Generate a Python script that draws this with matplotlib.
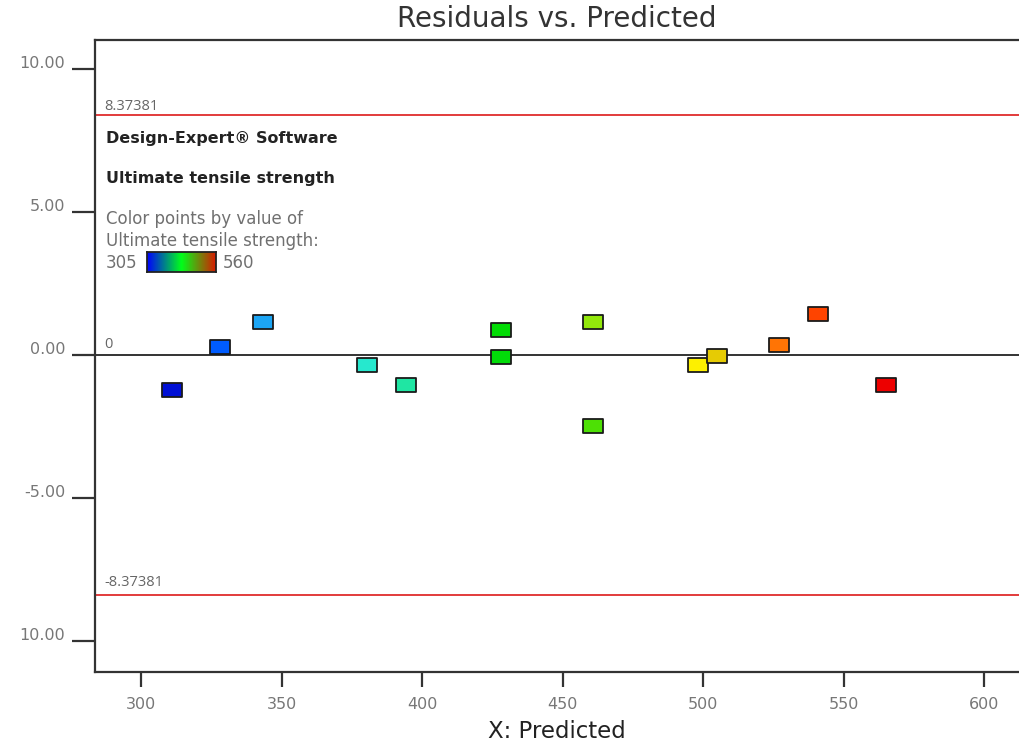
import numpy as np
import matplotlib
matplotlib.use('Agg')
import matplotlib.pyplot as plt
from matplotlib.colors import LinearSegmentedColormap, Normalize
from matplotlib.path import Path
from matplotlib.transforms import ScaledTranslation

plt.rcParams['font.family'] = ['DejaVu Sans']

# residuals vs predicted for ultimate tensile strength
predicted = [310.9, 328.1, 343.3, 380.4, 394.3, 428.0, 428.0, 460.7, 460.7, 498.2, 505.0, 527.0, 540.9, 565.1]
residuals = [-1.22, 0.29, 1.16, -0.35, -1.05, 0.87, -0.07, 1.16, -2.48, -0.35, -0.02, 0.35, 1.43, -1.05]
limit = 8.37381
color_lo, color_hi = 305, 560
x_ticks = [300, 350, 400, 450, 500, 550, 600]
y_ticks = [-10, -5, 0, 5, 10]
y_tick_labels = ['10.00', '-5.00', '0.00', '5.00', '10.00']

actual = np.array(predicted) + np.array(residuals)

# point colours run blue -> cyan -> green -> yellow -> red
pt_cmap = LinearSegmentedColormap.from_list('pts', [
    (0.00, (0.00, 0.00, 0.80)),
    (0.09, (0.00, 0.36, 1.00)),
    (0.16, (0.12, 0.68, 0.95)),
    (0.30, (0.15, 0.92, 0.80)),
    (0.35, (0.12, 0.90, 0.62)),
    (0.49, (0.00, 0.86, 0.00)),
    (0.60, (0.30, 0.88, 0.02)),
    (0.62, (0.65, 0.92, 0.05)),
    (0.76, (1.00, 0.94, 0.00)),
    (0.79, (0.88, 0.76, 0.02)),
    (0.87, (1.00, 0.47, 0.02)),
    (0.93, (1.00, 0.28, 0.00)),
    (1.00, (0.93, 0.00, 0.00)),
])
bar_cmap = LinearSegmentedColormap.from_list('bar', [(0, 0, 1), (0, 1, 0.1), (0.85, 0.1, 0)])
norm = Normalize(color_lo, color_hi, clip=True)

# flat rectangle marker
rect = Path([(-1, -0.65), (1, -0.65), (1, 0.65), (-1, 0.65), (-1, -0.65)],
            [Path.MOVETO, Path.LINETO, Path.LINETO, Path.LINETO, Path.CLOSEPOLY])

fig = plt.figure(figsize=(10.2, 7.46), dpi=100)
ax = fig.add_axes([95 / 1020, 1 - 672 / 746, 1 - 95 / 1020, (672 - 40) / 746])

ax.axhline(0, color='#333333', lw=1.4, zorder=1)
ax.axhline(limit, color='#e23b3b', lw=1.4, zorder=1)
ax.axhline(-limit, color='#e23b3b', lw=1.4, zorder=1)

for x, y, a in zip(predicted, residuals, actual):
    ax.plot(x, y, marker=rect, markersize=14.5, color=pt_cmap(norm(a)),
            markeredgecolor='#1a1a1a', markeredgewidth=1.3, ls='none', zorder=3)

ax.set_xlim(283.6, 612.8)
ax.set_ylim(-11.08, 11.01)
ax.set_xticks(x_ticks)
ax.set_yticks(y_ticks)
ax.set_yticklabels(y_tick_labels)
ax.tick_params(axis='y', length=16.5, width=1.6, color='#333333', pad=5,
               labelsize=11.5, labelcolor='#777777')
ax.tick_params(axis='x', length=11, width=1.6, color='#333333', pad=7,
               labelsize=11.5, labelcolor='#777777')
for lbl in ax.get_yticklabels():
    lbl.set_transform(lbl.get_transform() + ScaledTranslation(0, 5 / 72, fig.dpi_scale_trans))

ax.spines['right'].set_visible(False)
for s in ['left', 'top', 'bottom']:
    ax.spines[s].set_linewidth(1.6)
    ax.spines[s].set_color('#333333')

fig.text(557 / 1020, 1 - 19 / 746, 'Residuals vs. Predicted', ha='center', va='center',
         fontsize=20, color='#333333')
fig.text(557 / 1020, 1 - 732 / 746, 'X: Predicted', ha='center', va='center',
         fontsize=16.5, color='#222222')

def ftxt(x, y, s, **kw):
    fig.text(x / 1020, 1 - y / 746, s, va='center', ha='left', **kw)

ftxt(104, 106, f'{limit:.5f}', fontsize=10.5, color='#666666', family='Open Sans')
ftxt(104, 583, f'-{limit:.5f}', fontsize=10.5, color='#666666', family='Open Sans')
ftxt(104, 344, '0', fontsize=10.5, color='#666666', family='Open Sans')
ftxt(106, 138, 'Design-Expert® Software', fontsize=11.5, fontweight='bold', color='#222222')
ftxt(106, 179, 'Ultimate tensile strength', fontsize=11.5, fontweight='bold', color='#222222')
ftxt(106, 219, 'Color points by value of', fontsize=12, color='#707070')
ftxt(106, 241, 'Ultimate tensile strength:', fontsize=12, color='#707070')
ftxt(106, 263, str(color_lo), fontsize=12, color='#707070')
ftxt(223, 263, str(color_hi), fontsize=12, color='#707070')

# gradient swatch for the colour scale
cax = fig.add_axes([147 / 1020, 1 - 272 / 746, 69 / 1020, 20 / 746])
cax.imshow(np.linspace(0, 1, 256)[None, :], aspect='auto', cmap=bar_cmap)
cax.set_xticks([])
cax.set_yticks([])
for s in cax.spines.values():
    s.set_linewidth(1.3)
    s.set_color('#222222')

fig.savefig('out.png', dpi=100)
